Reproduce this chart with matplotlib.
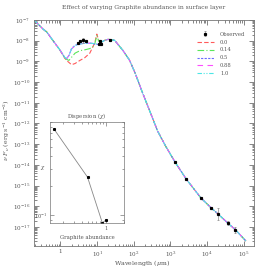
import numpy as np
import matplotlib
matplotlib.use("Agg")
import matplotlib.pyplot as plt
from matplotlib.ticker import LogLocator, NullFormatter, FixedLocator

plt.rcParams['font.family'] = ['DejaVu Serif']
plt.rcParams['mathtext.fontset'] = 'dejavuserif'

# ---- data ----
wavelength = [0.19, 0.34, 0.42, 0.6, 0.95, 1.3, 1.46, 1.7, 2.0, 2.5, 3.4, 4.6,
              6.3, 7.6, 8.6, 9.8, 11, 13, 16, 20, 30, 50, 77, 110, 164, 447,
              740, 1350, 2650, 6700, 12700, 20000, 36000, 58600, 114000]

common_head = [-7.0, -7.45, -7.57, -7.95, -8.43]
common_tail = [-7.98, -7.93, -7.98, -8.46, -8.95, -9.59, -10.41, -12.37,
               -13.10, -13.88, -14.67, -15.59, -16.07, -16.38, -16.80, -17.13, -17.68]

mid_00 = [-8.84, -8.95, -9.05, -9.16, -9.10, -8.95, -8.82, -8.60, -8.30, -8.10, -7.68, -7.98, -8.07]
mid_14 = [-8.82, -8.90, -8.95, -8.80, -8.60, -8.48, -8.44, -8.38, -8.30, -8.15, -7.75, -8.02, -8.07]
mid_50 = [-8.80, -8.87, -8.71, -8.38, -8.22, -8.15, -8.12, -8.12, -8.14, -8.16, -8.17, -8.19, -8.07]
mid_88 = [-8.80, -8.87, -8.72, -8.40, -8.23, -8.15, -8.12, -8.12, -8.13, -8.15, -8.16, -8.18, -8.07]
mid_10 = [-8.80, -8.86, -8.72, -8.40, -8.23, -8.16, -8.13, -8.12, -8.13, -8.15, -8.16, -8.18, -8.07]

series_labels = ['0.0', '0.14', '0.5', '0.88', '1.0']
series_mid = [mid_00, mid_14, mid_50, mid_88, mid_10]
series_colors = ['#ff5a5a', '#5ae65a', '#6a6aff', '#ff4cff', '#4ce6e6']
series_styles = [(0, (4, 2)), (0, (6, 2, 1, 2)), (0, (2, 1.2)), (0, (5, 4)),
                 (0, (4, 1.5, 1, 1.5, 1, 1.5))]

obs_wl = [3.0, 3.5, 4.1, 4.9, 11.2, 11.8, 13.1, 22, 1350, 2650, 6700, 12700,
          20000, 36000, 58600]
obs_logf = [-8.09, -8.02, -7.98, -8.01, -8.14, -8.02, -8.14, -7.98, -13.88,
            -14.67, -15.59, -16.07, -16.38, -16.80, -17.13]
obs_err_dex = [0.03, 0.03, 0.12, 0.03, 0.03, 0.03, 0.03, 0.03, 0.04, 0.04,
               0.04, 0.05, 0.3, 0.1, 0.14]

x_tick_exp = [0, 1, 2, 3, 4, 5]
y_tick_exp = [-17, -16, -15, -14, -13, -12, -11, -10, -9, -8, -7]

abundance = [0.14, 0.5, 0.88, 1.0]
chi = [0.76, 0.245, 0.083, 0.089]

# ---- figure ----
fig = plt.figure(figsize=(2.66, 2.69), dpi=100)
ax = fig.add_axes([0.128, 0.0855, 0.827, 0.840])

tc = '#555555'
for lab, mid, col, ls in zip(series_labels, series_mid, series_colors, series_styles):
    logf = np.array(common_head + mid + common_tail)
    ax.plot(wavelength, 10 ** logf, color=col, ls=ls, lw=0.8, label=lab)

obs_f = 10 ** np.array(obs_logf)
err = np.array(obs_err_dex)
lo = obs_f - obs_f * 10 ** (-err)
hi = obs_f * 10 ** err - obs_f
ax.errorbar(obs_wl, obs_f, yerr=[lo, hi], fmt='s', ms=1.3, color='black',
            ecolor='#888888', elinewidth=0.5, capsize=1.0, capthick=0.5,
            label='Observed', zorder=5)

ax.set_xscale('log')
ax.set_yscale('log')
ax.set_xlim(0.19, 1.9e5)
ax.set_ylim(1.2e-18, 1e-7)

ax.xaxis.set_major_locator(FixedLocator([10.0 ** e for e in x_tick_exp]))
ax.yaxis.set_major_locator(FixedLocator([10.0 ** e for e in y_tick_exp]))
ax.xaxis.set_minor_locator(LogLocator(base=10, subs=np.arange(2, 10), numticks=20))
ax.yaxis.set_minor_locator(LogLocator(base=10, subs=np.arange(2, 10), numticks=20))
ax.yaxis.set_minor_formatter(NullFormatter())
ax.xaxis.set_minor_formatter(NullFormatter())
ax.set_xticklabels(['1' if e == 0 else r'$10^{%d}$' % e for e in x_tick_exp])
ax.set_yticklabels([r'$10^{%d}$' % e for e in y_tick_exp])

ax.tick_params(which='both', direction='in', top=True, right=True, colors=tc,
               labelsize=4.1, width=0.5)
ax.tick_params(axis='x', pad=2.5)
ax.tick_params(axis='y', pad=3)
ax.tick_params(which='major', length=3.5)
ax.tick_params(which='minor', length=1.8)
for s in ax.spines.values():
    s.set_color('#777777')
    s.set_linewidth(0.6)

fig.text(0.54, 0.972, 'Effect of varying Graphite abundance in surface layer',
         ha='center', va='center', fontsize=4.3, color=tc)
fig.text(0.533, 0.021, r'Wavelength ($\mu$m)', ha='center', va='center',
         fontsize=4.5, color=tc)
fig.text(0.027, 0.517, r'$\nu\ F_\nu\ (\rm erg\ s^{-1}\ cm^{-2})$', ha='center',
         va='center', rotation=90, fontsize=4.5, color=tc)

handles, labels = ax.get_legend_handles_labels()
order = [5, 0, 1, 2, 3, 4]
leg = ax.legend([handles[i] for i in order], [labels[i] for i in order],
                loc='upper right', bbox_to_anchor=(0.97, 0.958), frameon=False,
                fontsize=3.8, handlelength=3.2, labelspacing=0.55,
                handletextpad=1.2, borderaxespad=0)
for t in leg.get_texts():
    t.set_color(tc)

# ---- inset ----
ins = fig.add_axes([0.188, 0.171, 0.278, 0.3755])
ins.plot(abundance, chi, color='#888888', lw=0.6)
ins.plot(abundance, chi, 's', color='black', ms=1.2)
ins.set_xscale('log')
ins.set_yscale('log')
ins.set_xlim(0.12, 2.0)
ins.set_ylim(0.083, 0.9)
ins.xaxis.set_major_locator(FixedLocator([1.0]))
ins.xaxis.set_minor_locator(LogLocator(base=10, subs=np.arange(2, 10), numticks=10))
ins.xaxis.set_minor_formatter(NullFormatter())
ins.set_xticklabels(['1'])
ins.yaxis.set_major_locator(FixedLocator([0.1]))
ins.yaxis.set_minor_locator(LogLocator(base=10, subs=np.arange(2, 10), numticks=10))
ins.yaxis.set_minor_formatter(NullFormatter())
ins.set_yticklabels([r'$10^{-1}$'])
ins.tick_params(which='both', direction='in', top=True, right=True, colors=tc,
                labelsize=3.6, width=0.4, pad=2)
ins.tick_params(which='major', length=3)
ins.tick_params(which='minor', length=1.5)
for s in ins.spines.values():
    s.set_color('#777777')
    s.set_linewidth(0.5)
ins.set_title(r'Dispersion ($\chi$)', fontsize=3.8, color=tc, pad=3)
ins.set_xlabel('Graphite abundance', fontsize=3.8, color=tc, labelpad=3)
ins.set_ylabel(r'$\chi$', fontsize=3.8, color=tc, rotation=0)
ins.yaxis.set_label_coords(-0.1, 0.5)

fig.savefig('out.png', dpi=100)
